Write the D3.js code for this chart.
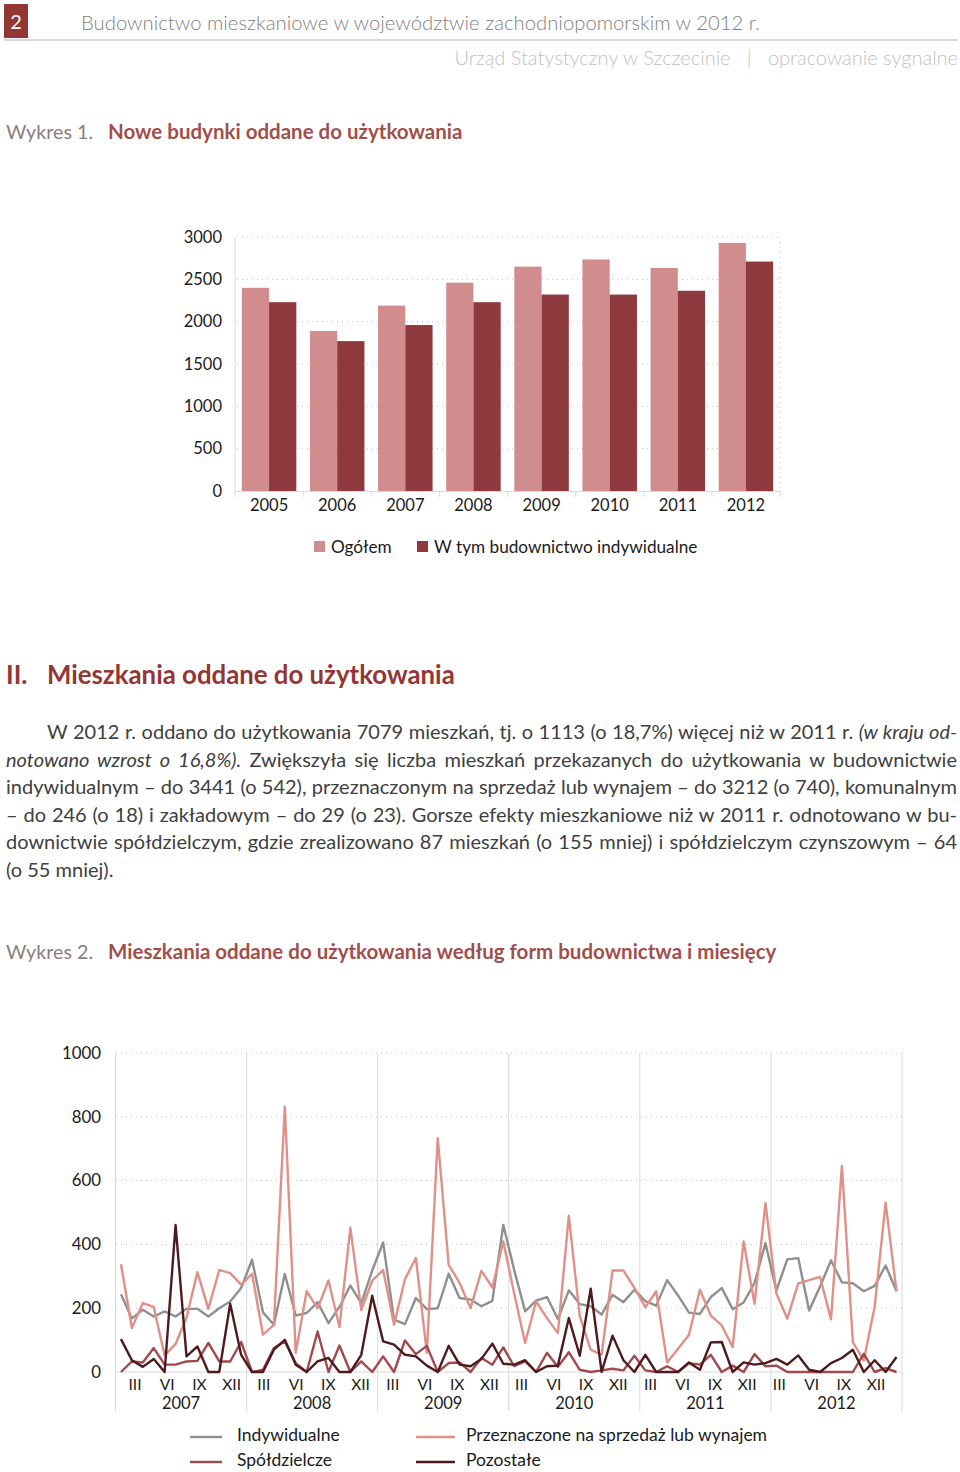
<!DOCTYPE html>
<html>
<head>
<meta charset="utf-8">
<script src="https://cdn.jsdelivr.net/npm/d3@7"></script>
<style>
body { margin: 0; background: #fff; font-family: Lato, "Open Sans", sans-serif; }
#page { position: relative; width: 960px; height: 1472px; }
#page svg { position: absolute; left: 0; top: 0; }
#tekst { position: absolute; left: 6px; top: 718px; width: 951px; font-size: 20px; line-height: 27.6px; color: #404040; }
#tekst div { text-align: justify; text-align-last: justify; }
#tekst div.last { text-align-last: left; }
</style>
</head>
<body>
<div id="page"></div>
<script>
// wykres 1 - budynki
var years = ["2005", "2006", "2007", "2008", "2009", "2010", "2011", "2012"];
var ogolem = [2400, 1890, 2190, 2460, 2650, 2735, 2635, 2930];
var indywidualneBud = [2230, 1770, 1960, 2230, 2320, 2320, 2365, 2710];
var barTicks = [0, 500, 1000, 1500, 2000, 2500, 3000];

// wykres 2 - mieszkania wg miesiecy 2007-2012
var lineYears = ["2007", "2008", "2009", "2010", "2011", "2012"];
var monthLabels = ["III", "VI", "IX", "XII"];
var lineTicks = [0, 200, 400, 600, 800, 1000];
var indywidualne = [
  244, 168, 195, 174, 190, 174, 198, 198, 174, 200, 221, 263,
  352, 187, 148, 307, 177, 185, 219, 153, 204, 271, 216, 318,
  406, 164, 150, 232, 197, 200, 308, 232, 227, 206, 223, 461,
  320, 190, 224, 235, 166, 256, 213, 206, 180, 242, 219, 258,
  222, 208, 288, 240, 186, 182, 235, 263, 197, 218, 279, 404,
  255, 353, 357, 193, 268, 350, 281, 278, 253, 270, 334, 253];
var sprzedaz = [
  338, 138, 216, 204, 52, 88, 170, 313, 198, 320, 310, 274,
  308, 117, 148, 832, 60, 253, 200, 287, 141, 452, 194, 286,
  320, 148, 291, 357, 60, 733, 336, 279, 200, 317, 265, 409,
  245, 91, 221, 169, 122, 490, 175, 70, 54, 318, 318, 264,
  203, 253, 30, 73, 117, 258, 177, 146, 78, 409, 214, 529,
  246, 167, 278, 288, 298, 165, 646, 94, 36, 205, 531, 253];
var spoldzielcze = [
  0, 33, 30, 75, 23, 23, 33, 35, 91, 33, 33, 94,
  0, 7, 75, 96, 28, 0, 127, 0, 83, 0, 33, 0,
  49, 0, 99, 56, 82, 0, 28, 30, 0, 44, 23, 77,
  18, 33, 0, 60, 16, 62, 7, 0, 5, 10, 5, 51,
  5, 0, 18, 0, 28, 23, 54, 0, 20, 0, 56, 18,
  20, 0, 0, 0, 0, 0, 0, 0, 57, 0, 12, 0];
var pozostale = [
  103, 37, 16, 41, 0, 461, 49, 80, 0, 0, 214, 54,
  0, 0, 70, 101, 23, 0, 33, 44, 0, 0, 54, 239,
  96, 86, 54, 49, 20, 0, 82, 23, 18, 41, 89, 26,
  23, 37, 0, 18, 20, 169, 51, 261, 0, 114, 37, 0,
  54, 0, 0, 0, 30, 7, 93, 94, 0, 30, 23, 28,
  41, 23, 52, 7, 0, 28, 44, 70, 0, 37, 0, 47];

var width = 960;
var height = 1472;
var txt = "#1a1a1a";

var svg = d3.select("#page")
  .append("svg")
  .attr("width", width)
  .attr("height", height)
  .style("font-family", "Lato, 'Open Sans', sans-serif");

// naglowek strony
svg.append("rect").attr("x", 4).attr("y", 4).attr("width", 24).attr("height", 34).attr("fill", "#943634");
svg.append("text").attr("x", 16).attr("y", 29).attr("text-anchor", "middle")
  .attr("fill", "#fff").style("font-size", "20px").text("2");
svg.append("line").attr("x1", 4).attr("x2", 958).attr("y1", 40).attr("y2", 40)
  .attr("stroke", "#d9d9d9").attr("stroke-width", 2);
svg.append("text").attr("x", 81).attr("y", 30).attr("fill", "#7f7f7f")
  .style("font-size", "20.3px").style("font-weight", 300)
  .text("Budownictwo mieszkaniowe w województwie zachodniopomorskim w 2012 r.");
svg.append("text").attr("x", 958).attr("y", 65).attr("text-anchor", "end").attr("fill", "#bfbfbf")
  .style("font-size", "20px").style("font-weight", 300).style("white-space", "pre")
  .text("Urząd Statystyczny w Szczecinie   |   opracowanie sygnalne");

function chartTitle(y, label, title) {
  svg.append("text").attr("x", 6).attr("y", y).attr("fill", "#8b7d7d")
    .style("font-size", "19.7px").text(label);
  svg.append("text").attr("x", 108).attr("y", y).attr("fill", "#a04f4b")
    .style("font-size", "20.5px").style("font-weight", "bold").text(title);
}
chartTitle(139, "Wykres 1.", "Nowe budynki oddane do użytkowania");
chartTitle(959, "Wykres 2.", "Mieszkania oddane do użytkowania według form budownictwa i miesięcy");

svg.append("text").attr("x", 6).attr("y", 684).attr("fill", "#943634")
  .style("font-size", "25.8px").style("font-weight", "bold").text("II.");
svg.append("text").attr("x", 47).attr("y", 684).attr("fill", "#943634")
  .style("font-size", "25.8px").style("font-weight", "bold").text("Mieszkania oddane do użytkowania");

// ---------- wykres 1 ----------
var x1 = d3.scaleBand().domain(years).range([235, 780]);
var y1 = d3.scaleLinear().domain([0, 3000]).range([491, 237]);
var c1 = svg.append("g");

c1.selectAll(".grid1").data(barTicks.slice(1)).enter().append("line")
  .attr("x1", 237).attr("x2", 780)
  .attr("y1", function(d) { return y1(d); }).attr("y2", function(d) { return y1(d); })
  .attr("stroke", "#bfbfbf").attr("stroke-dasharray", "1,4");
c1.append("line").attr("x1", 780).attr("x2", 780).attr("y1", y1(3000)).attr("y2", y1(0))
  .attr("stroke", "#bfbfbf").attr("stroke-dasharray", "1,4");
c1.append("line").attr("x1", 235).attr("x2", 235).attr("y1", y1(3000)).attr("y2", y1(0))
  .attr("stroke", "#d9d9d9");

var yAxis1 = c1.append("g")
  .attr("transform", "translate(226,0)")
  .call(d3.axisLeft(y1).tickValues(barTicks).tickFormat(d3.format("d")).tickSize(0).tickPadding(4));
yAxis1.select(".domain").remove();
yAxis1.selectAll("text").attr("fill", txt).style("font-size", "16.5px").style("font-family", "Lato, sans-serif");

var barW = x1.bandwidth() * 0.4;
c1.selectAll(".bar1").data(ogolem).enter().append("rect")
  .attr("x", function(d, i) { return x1(years[i]) + x1.bandwidth() / 2 - barW; })
  .attr("y", function(d) { return y1(d); })
  .attr("width", barW)
  .attr("height", function(d) { return y1(0) - y1(d); })
  .attr("fill", "#d18d8d");
c1.selectAll(".bar2").data(indywidualneBud).enter().append("rect")
  .attr("x", function(d, i) { return x1(years[i]) + x1.bandwidth() / 2; })
  .attr("y", function(d) { return y1(d); })
  .attr("width", barW)
  .attr("height", function(d) { return y1(0) - y1(d); })
  .attr("fill", "#8e393d");

var xAxis1 = c1.append("g")
  .attr("transform", "translate(0," + y1(0) + ")")
  .call(d3.axisBottom(x1).tickSize(0).tickPadding(8));
xAxis1.select(".domain").attr("stroke", "#d9d9d9");
xAxis1.selectAll("text").attr("fill", txt).style("font-size", "16.5px").style("font-family", "Lato, sans-serif");
c1.selectAll(".sep1").data(years.concat(["end"])).enter().append("line")
  .attr("x1", function(d, i) { return i < years.length ? x1(d) : x1.range()[1]; })
  .attr("x2", function(d, i) { return i < years.length ? x1(d) : x1.range()[1]; })
  .attr("y1", y1(0)).attr("y2", y1(0) + 6)
  .attr("stroke", "#d9d9d9");

var leg1 = [{name: "Ogółem", color: "#d18d8d", x: 314}, {name: "W tym budownictwo indywidualne", color: "#8e393d", x: 417}];
var l1 = c1.selectAll(".leg1").data(leg1).enter().append("g");
l1.append("rect").attr("x", function(d) { return d.x; }).attr("y", 541).attr("width", 11).attr("height", 11)
  .attr("fill", function(d) { return d.color; });
l1.append("text").attr("x", function(d) { return d.x + 17; }).attr("y", 553)
  .attr("fill", txt).style("font-size", "17.2px").text(function(d) { return d.name; });

// ---------- wykres 2 ----------
var x2 = d3.scaleBand().domain(d3.range(72)).range([115.5, 902]);
var y2 = d3.scaleLinear().domain([0, 1000]).range([1372, 1053]);
var xLab = d3.scaleLinear().domain([0, 72]).range([113.5, 113.5 + 72 * 10.74]);
var c2 = svg.append("g");

c2.selectAll(".grid2").data(lineTicks.slice(1)).enter().append("line")
  .attr("x1", 116).attr("x2", 902)
  .attr("y1", function(d) { return y2(d); }).attr("y2", function(d) { return y2(d); })
  .attr("stroke", "#bfbfbf").attr("stroke-dasharray", "1,4");
c2.append("line").attr("x1", 116).attr("x2", 902).attr("y1", y2(0)).attr("y2", y2(0))
  .attr("stroke", "#d9d9d9");
c2.selectAll(".ysep").data(d3.range(7)).enter().append("line")
  .attr("x1", function(d) { return d < 6 ? x2(d * 12) : x2.range()[1]; })
  .attr("x2", function(d) { return d < 6 ? x2(d * 12) : x2.range()[1]; })
  .attr("y1", y2(1000)).attr("y2", 1411)
  .attr("stroke", "#d9d9d9");

var yAxis2 = c2.append("g")
  .attr("transform", "translate(105,0)")
  .call(d3.axisLeft(y2).tickValues(lineTicks).tickFormat(d3.format("d")).tickSize(0).tickPadding(4));
yAxis2.select(".domain").remove();
yAxis2.selectAll("text").attr("fill", txt).style("font-size", "16.8px").style("font-family", "Lato, sans-serif");

var monthPos = [];
lineYears.forEach(function(yr, k) {
  monthLabels.forEach(function(m, j) { monthPos.push({label: m, idx: k * 12 + j * 3 + 2}); });
});
c2.selectAll(".mlab").data(monthPos).enter().append("text")
  .attr("x", function(d) { return xLab(d.idx); })
  .attr("y", 1390).attr("text-anchor", "middle")
  .attr("fill", txt).style("font-size", "15.5px")
  .text(function(d) { return d.label; });
c2.selectAll(".ylab").data(lineYears).enter().append("text")
  .attr("x", function(d, k) { return x2(k * 12 + 6); })
  .attr("y", 1409).attr("text-anchor", "middle")
  .attr("fill", txt).style("font-size", "16.5px")
  .text(function(d) { return d; });

var series = [
  {name: "Indywidualne", values: indywidualne, color: "#8f8f8f", lx: 190, ly: 1437},
  {name: "Przeznaczone na sprzedaż lub wynajem", values: sprzedaz, color: "#df9088", lx: 416, ly: 1437},
  {name: "Spółdzielcze", values: spoldzielcze, color: "#a04a4e", lx: 190, ly: 1462},
  {name: "Pozostałe", values: pozostale, color: "#4d1b1e", lx: 416, ly: 1462}
];
var line = d3.line()
  .x(function(d, i) { return x2(i) + x2.bandwidth() / 2; })
  .y(function(d) { return y2(d); });

c2.selectAll(".series").data(series).enter().append("path")
  .attr("d", function(d) { return line(d.values); })
  .attr("fill", "none")
  .attr("stroke", function(d) { return d.color; })
  .attr("stroke-width", 2.4)
  .attr("stroke-linejoin", "round");

var l2 = c2.selectAll(".leg2").data(series).enter().append("g");
l2.append("line")
  .attr("x1", function(d) { return d.lx; })
  .attr("x2", function(d) { return d.lx + (d.lx < 300 ? 32 : 39); })
  .attr("y1", function(d) { return d.ly; }).attr("y2", function(d) { return d.ly; })
  .attr("stroke", function(d) { return d.color; }).attr("stroke-width", 2.4);
l2.append("text")
  .attr("x", function(d) { return d.lx < 300 ? 237 : 466; })
  .attr("y", function(d) { return d.ly + 4; })
  .attr("fill", txt).style("font-size", "17.5px")
  .text(function(d) { return d.name; });

// tekst
var lines = [
  "W 2012 r. oddano do użytkowania 7079 mieszkań, tj. o 1113 (o 18,7%) więcej niż w 2011 r. <i>(w kraju od-</i>",
  "<i>notowano wzrost o 16,8%).</i> Zwiększyła się liczba mieszkań przekazanych do użytkowania w budownictwie",
  "indywidualnym – do 3441 (o 542), przeznaczonym na sprzedaż lub wynajem – do 3212 (o 740), komunalnym",
  "– do 246 (o 18) i zakładowym – do 29 (o 23). Gorsze efekty mieszkaniowe niż w 2011 r. odnotowano w bu-",
  "downictwie spółdzielczym, gdzie zrealizowano 87 mieszkań (o 155 mniej) i spółdzielczym czynszowym – 64",
  "(o 55 mniej)."
];
var tekst = d3.select("#page").append("div").attr("id", "tekst");
tekst.selectAll("div").data(lines).enter().append("div")
  .attr("class", function(d, i) { return i === lines.length - 1 ? "last" : null; })
  .style("padding-left", function(d, i) { return i === 0 ? "41px" : "0px"; })
  .html(function(d) { return d; });
</script>
</body>
</html>
